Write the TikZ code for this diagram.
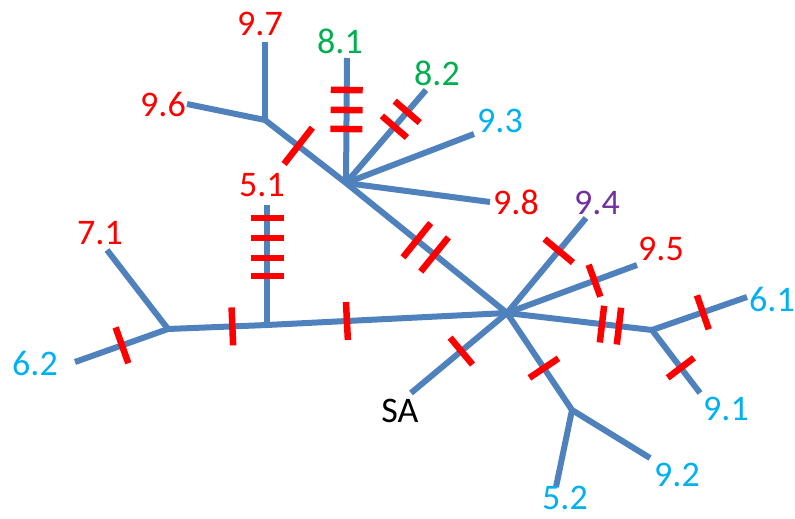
\documentclass[tikz,border=0pt]{standalone}
\usepackage{fontspec}
\setmainfont{Carlito}
\definecolor{branchblue}{HTML}{4F81BD}
\definecolor{lred}{HTML}{FF0000}
\definecolor{lgreen}{HTML}{00B050}
\definecolor{lcyan}{HTML}{00B0F0}
\definecolor{lpurple}{HTML}{7030A0}
\begin{document}
\begin{tikzpicture}[x=1pt,y=-1pt,
  branch/.style={draw=branchblue, line width=6pt, line cap=butt, line join=round},
  rtick/.style={sloped, shape=rectangle, fill=red, draw=none, inner sep=0pt,
    minimum width=6.5pt, minimum height=#1},
  lab/.style={font=\fontsize{36}{40}\selectfont, inner sep=0pt, anchor=center}]
\useasboundingbox (0,0) rectangle (795,519);
% junctions
\coordinate (J1) at (265,120);
\coordinate (U) at (346,183);
\coordinate (H) at (507,313);
\coordinate (L) at (168,329);
\coordinate (J5) at (267,325);
\coordinate (R) at (652,330);
\coordinate (B) at (572,410);
% leaf ends
\coordinate (e97) at (265,42);
\coordinate (e96) at (187,104);
\coordinate (e81) at (347,58);
\coordinate (e82) at (426,90);
\coordinate (e93) at (474,134);
\coordinate (e98) at (490,202);
\coordinate (e51) at (267,205);
\coordinate (e71) at (107,250);
\coordinate (e62) at (75,362);
\coordinate (e94) at (586,218);
\coordinate (e95) at (637,265);
\coordinate (e61) at (747,297);
\coordinate (e91) at (700,393);
\coordinate (eSA) at (411,393);
\coordinate (e52) at (556,487);
\coordinate (e92) at (650,458);
% branches with ticks
\draw[branch] (e96) -- (J1)
  -- node[rtick=46, pos=.41]{} (U)
  -- node[rtick=44, pos=.44]{} node[rtick=44, pos=.55]{} (H)
  -- node[rtick=37, pos=.655]{} node[rtick=37, pos=.772]{} (R)
  -- node[rtick=33, pos=.60]{} (e91);
\draw[branch] (J1) -- (e97);
\draw[branch] (U) -- node[rtick=32, pos=.432]{} node[rtick=32, pos=.584]{} node[rtick=32, pos=.744]{} (e81);
\draw[branch] (U) -- node[rtick=33, pos=.605]{} node[rtick=33, pos=.765]{} (e82);
\draw[branch] (U) -- (e93);
\draw[branch] (U) -- (e98);
\draw[branch] (e62) -- node[rtick=38, pos=.505]{} (L)
  -- node[rtick=38, pos=.65]{} (J5)
  -- node[rtick=38, pos=.333]{} (H)
  -- node[rtick=35, pos=.568]{} (B)
  -- (e92);
\draw[branch] (L) -- (e71);
\draw[branch] (J5) -- node[rtick=33, pos=.41]{} node[rtick=33, pos=.56]{} node[rtick=33, pos=.725]{} node[rtick=33, pos=.89]{} (e51);
\draw[branch] (H) -- node[rtick=37, pos=.655]{} (e94);
\draw[branch] (H) -- node[rtick=34, pos=.673]{} (e95);
\draw[branch] (H) -- node[rtick=35, pos=.476]{} (eSA);
\draw[branch] (R) -- node[rtick=36, pos=.535]{} (e61);
\draw[branch] (B) -- (e52);
% labels
\node[lab, text=lred] (l97) at (260,24) {9.7};
\node[lab, text=lred] (l96) at (163,104) {9.6};
\node[lab, text=lgreen] (l81) at (340,41) {8.1};
\node[lab, text=lgreen] (l82) at (437,73) {8.2};
\node[lab, text=lcyan] (l93) at (500,121) {9.3};
\node[lab, text=lred] (l98) at (516,202) {9.8};
\node[lab, text=lred] (l51) at (262,185) {5.1};
\node[lab, text=lred] (l71) at (100,233) {7.1};
\node[lab, text=lcyan] (l62) at (35,363) {6.2};
\node[lab, text=lpurple] (l94) at (597,203) {9.4};
\node[lab, text=lred] (l95) at (661,249) {9.5};
\node[lab, text=lcyan] (l61) at (772,299) {6.1};
\node[lab, text=lcyan] (l91) at (726,409) {9.1};
\node[lab, text=lcyan] (l92) at (677,475) {9.2};
\node[lab, text=lcyan] (l52) at (565,498) {5.2};
\node[lab, text=black] (lSA) at (400,411) {SA};
\end{tikzpicture}
\end{document}
